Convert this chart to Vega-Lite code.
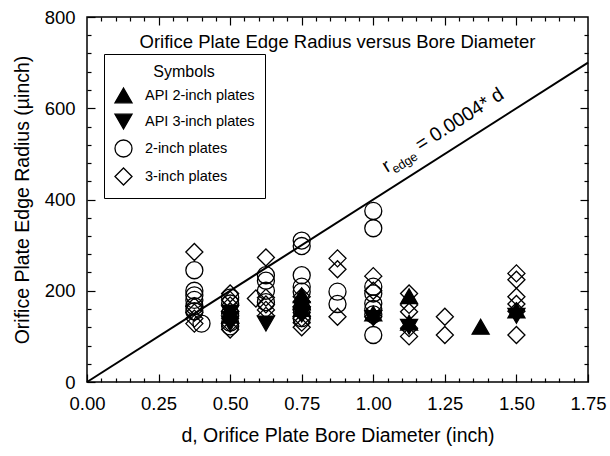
{
  "$schema": "https://vega.github.io/schema/vega-lite/v6.json",
  "width": 501,
  "height": 365,
  "autosize": {"type": "none"},
  "padding": {"left": 87, "top": 17, "right": 22, "bottom": 74},
  "config": {
    "font": "Liberation Sans",
    "view": {"stroke": "black", "strokeWidth": 1.5},
    "axis": {"grid": false, "domain": false, "labelColor": "black", "titleColor": "black", "tickColor": "black", "tickWidth": 1.2, "tickOpacity": 1, "zindex": 1},
    "legend": {
      "orient": "none", "legendX": 17, "legendY": 37,
      "strokeColor": "black", "fillColor": "white", "padding": 10,
      "titleFontSize": 16, "titleFontWeight": "normal", "titleAnchor": "middle", "titleColor": "black", "titlePadding": 6,
      "labelFontSize": 14.5, "labelColor": "black", "rowPadding": 5, "labelOffset": 12,
      "symbolStrokeWidth": 1.3
    }
  },
  "datasets": {
    "fit": [{"d": 0, "r": 0}, {"d": 1.75, "r": 700}],
    "pts": [
      {"d": 0.375, "r": 285, "series": "3-inch plates"},
      {"d": 0.375, "r": 166, "series": "3-inch plates"},
      {"d": 0.375, "r": 152, "series": "3-inch plates"},
      {"d": 0.375, "r": 139, "series": "3-inch plates"},
      {"d": 0.375, "r": 128, "series": "3-inch plates"},
      {"d": 0.5, "r": 194, "series": "3-inch plates"},
      {"d": 0.5, "r": 180, "series": "3-inch plates"},
      {"d": 0.5, "r": 168, "series": "3-inch plates"},
      {"d": 0.5, "r": 155, "series": "3-inch plates"},
      {"d": 0.5, "r": 140, "series": "3-inch plates"},
      {"d": 0.5, "r": 128, "series": "3-inch plates"},
      {"d": 0.5, "r": 115, "series": "3-inch plates"},
      {"d": 0.59, "r": 183, "series": "3-inch plates"},
      {"d": 0.625, "r": 273, "series": "3-inch plates"},
      {"d": 0.625, "r": 185, "series": "3-inch plates"},
      {"d": 0.625, "r": 170, "series": "3-inch plates"},
      {"d": 0.625, "r": 158, "series": "3-inch plates"},
      {"d": 0.625, "r": 145, "series": "3-inch plates"},
      {"d": 0.75, "r": 187, "series": "3-inch plates"},
      {"d": 0.75, "r": 176, "series": "3-inch plates"},
      {"d": 0.75, "r": 165, "series": "3-inch plates"},
      {"d": 0.75, "r": 152, "series": "3-inch plates"},
      {"d": 0.75, "r": 140, "series": "3-inch plates"},
      {"d": 0.75, "r": 130, "series": "3-inch plates"},
      {"d": 0.75, "r": 120, "series": "3-inch plates"},
      {"d": 0.875, "r": 271, "series": "3-inch plates"},
      {"d": 0.875, "r": 247, "series": "3-inch plates"},
      {"d": 0.875, "r": 143, "series": "3-inch plates"},
      {"d": 1.0, "r": 232, "series": "3-inch plates"},
      {"d": 1.0, "r": 200, "series": "3-inch plates"},
      {"d": 1.0, "r": 143, "series": "3-inch plates"},
      {"d": 1.125, "r": 194, "series": "3-inch plates"},
      {"d": 1.125, "r": 169, "series": "3-inch plates"},
      {"d": 1.125, "r": 154, "series": "3-inch plates"},
      {"d": 1.125, "r": 118, "series": "3-inch plates"},
      {"d": 1.125, "r": 100, "series": "3-inch plates"},
      {"d": 1.25, "r": 143, "series": "3-inch plates"},
      {"d": 1.25, "r": 103, "series": "3-inch plates"},
      {"d": 1.5, "r": 238, "series": "3-inch plates"},
      {"d": 1.5, "r": 224, "series": "3-inch plates"},
      {"d": 1.5, "r": 187, "series": "3-inch plates"},
      {"d": 1.5, "r": 171, "series": "3-inch plates"},
      {"d": 1.5, "r": 155, "series": "3-inch plates"},
      {"d": 1.5, "r": 103, "series": "3-inch plates"},
      {"d": 0.375, "r": 245, "series": "2-inch plates"},
      {"d": 0.375, "r": 200, "series": "2-inch plates"},
      {"d": 0.375, "r": 190, "series": "2-inch plates"},
      {"d": 0.375, "r": 180, "series": "2-inch plates"},
      {"d": 0.375, "r": 166, "series": "2-inch plates"},
      {"d": 0.375, "r": 155, "series": "2-inch plates"},
      {"d": 0.4, "r": 128, "series": "2-inch plates"},
      {"d": 0.5, "r": 185, "series": "2-inch plates"},
      {"d": 0.5, "r": 172, "series": "2-inch plates"},
      {"d": 0.5, "r": 150, "series": "2-inch plates"},
      {"d": 0.5, "r": 130, "series": "2-inch plates"},
      {"d": 0.5, "r": 122, "series": "2-inch plates"},
      {"d": 0.625, "r": 234, "series": "2-inch plates"},
      {"d": 0.625, "r": 222, "series": "2-inch plates"},
      {"d": 0.625, "r": 200, "series": "2-inch plates"},
      {"d": 0.625, "r": 175, "series": "2-inch plates"},
      {"d": 0.75, "r": 310, "series": "2-inch plates"},
      {"d": 0.75, "r": 298, "series": "2-inch plates"},
      {"d": 0.75, "r": 234, "series": "2-inch plates"},
      {"d": 0.75, "r": 209, "series": "2-inch plates"},
      {"d": 0.75, "r": 198, "series": "2-inch plates"},
      {"d": 0.75, "r": 160, "series": "2-inch plates"},
      {"d": 0.75, "r": 140, "series": "2-inch plates"},
      {"d": 0.875, "r": 198, "series": "2-inch plates"},
      {"d": 0.875, "r": 171, "series": "2-inch plates"},
      {"d": 1.0, "r": 375, "series": "2-inch plates"},
      {"d": 1.0, "r": 337, "series": "2-inch plates"},
      {"d": 1.0, "r": 209, "series": "2-inch plates"},
      {"d": 1.0, "r": 194, "series": "2-inch plates"},
      {"d": 1.0, "r": 172, "series": "2-inch plates"},
      {"d": 1.0, "r": 160, "series": "2-inch plates"},
      {"d": 1.0, "r": 148, "series": "2-inch plates"},
      {"d": 1.0, "r": 103, "series": "2-inch plates"},
      {"d": 0.5, "r": 152, "series": "API 3-inch plates"},
      {"d": 0.5, "r": 138, "series": "API 3-inch plates"},
      {"d": 0.5, "r": 128, "series": "API 3-inch plates"},
      {"d": 0.625, "r": 128, "series": "API 3-inch plates"},
      {"d": 0.75, "r": 148, "series": "API 3-inch plates"},
      {"d": 1.0, "r": 140, "series": "API 3-inch plates"},
      {"d": 1.125, "r": 121, "series": "API 3-inch plates"},
      {"d": 1.5, "r": 145, "series": "API 3-inch plates"},
      {"d": 0.5, "r": 145, "series": "API 2-inch plates"},
      {"d": 0.75, "r": 190, "series": "API 2-inch plates"},
      {"d": 0.75, "r": 175, "series": "API 2-inch plates"},
      {"d": 0.75, "r": 160, "series": "API 2-inch plates"},
      {"d": 1.0, "r": 150, "series": "API 2-inch plates"},
      {"d": 1.125, "r": 188, "series": "API 2-inch plates"},
      {"d": 1.125, "r": 130, "series": "API 2-inch plates"},
      {"d": 1.375, "r": 121, "series": "API 2-inch plates"},
      {"d": 1.5, "r": 157, "series": "API 2-inch plates"}
    ]
  },
  "layer": [
    {
      "data": {"name": "fit"},
      "mark": {"type": "line", "color": "black", "strokeWidth": 2},
      "encoding": {
        "x": {"field": "d", "type": "quantitative", "scale": {"domain": [0, 1.75], "nice": false},
          "axis": {"orient": "bottom", "values": [0, 0.25, 0.5, 0.75, 1, 1.25, 1.5, 1.75], "format": ".2f", "ticks": true, "tickSize": -8,
            "labelFontSize": 18.5, "labelPadding": 20, "labelFlush": false, "labelOverlap": false,
            "title": "d, Orifice Plate Bore Diameter (inch)", "titleFontSize": 19.5, "titleFontWeight": "normal", "titlePadding": 14}},
        "y": {"field": "r", "type": "quantitative", "scale": {"domain": [0, 800], "nice": false},
          "axis": {"orient": "left", "values": [0, 200, 400, 600, 800], "ticks": true, "tickSize": -8,
            "labelFontSize": 18.5, "labelPadding": 20, "labelFlush": false, "labelOverlap": false,
            "title": "Orifice Plate Edge Radius (µinch)", "titleLimit": 500, "titleFontSize": 19.5, "titleFontWeight": "normal", "titlePadding": 12}}
      }
    },
    {
      "data": {"name": "pts"},
      "mark": {"type": "point", "filled": true, "strokeWidth": 1.3, "opacity": 1},
      "encoding": {
        "x": {"field": "d", "type": "quantitative",
          "axis": {"orient": "top", "labels": false, "title": null, "values": [0.25, 0.5, 0.75, 1, 1.25, 1.5], "tickSize": -8}},
        "y": {"field": "r", "type": "quantitative",
          "axis": {"orient": "right", "labels": false, "title": null, "values": [200, 400, 600], "tickSize": -8}},
        "shape": {"field": "series", "type": "nominal", "title": "Symbols",
          "scale": {"domain": ["API 2-inch plates", "API 3-inch plates", "2-inch plates", "3-inch plates"], "range": ["triangle-up", "triangle-down", "circle", "diamond"]}},
        "fill": {"field": "series", "type": "nominal", "title": "Symbols",
          "scale": {"domain": ["API 2-inch plates", "API 3-inch plates", "2-inch plates", "3-inch plates"], "range": ["black", "black", "transparent", "transparent"]}},
        "stroke": {"field": "series", "type": "nominal", "title": "Symbols",
          "scale": {"domain": ["API 2-inch plates", "API 3-inch plates", "2-inch plates", "3-inch plates"], "range": ["black", "black", "black", "black"]}},
        "size": {"field": "series", "type": "nominal", "title": "Symbols",
          "scale": {"domain": ["API 2-inch plates", "API 3-inch plates", "2-inch plates", "3-inch plates"], "range": [290, 290, 225, 330]}}
      }
    },
    {
      "data": {"values": [{"d": 0.875, "r": 732, "t": "Orifice Plate Edge Radius versus Bore Diameter"}]},
      "mark": {"type": "text", "fontSize": 18.5, "align": "center", "baseline": "alphabetic", "color": "black"},
      "encoding": {
        "x": {"field": "d", "type": "quantitative",
          "axis": {"orient": "bottom", "labels": false, "title": null,
            "values": [0.05,0.1,0.15,0.2,0.3,0.35,0.4,0.45,0.55,0.6,0.65,0.7,0.8,0.85,0.9,0.95,1.05,1.1,1.15,1.2,1.3,1.35,1.4,1.45,1.55,1.6,1.65,1.7], "tickSize": -4}},
        "y": {"field": "r", "type": "quantitative",
          "axis": {"orient": "left", "labels": false, "title": null,
            "values": [40,80,120,160,240,280,320,360,440,480,520,560,640,680,720,760], "tickSize": -4}},
        "text": {"field": "t"}
      }
    },
    {
      "data": {"values": [{"d": 1.048, "r": 458, "t": "r"}]},
      "mark": {"type": "text", "fontSize": 19.5, "align": "left", "baseline": "alphabetic", "angle": 327.5, "color": "black"},
      "encoding": {
        "x": {"field": "d", "type": "quantitative",
          "axis": {"orient": "top", "labels": false, "title": null,
            "values": [0.05,0.1,0.15,0.2,0.3,0.35,0.4,0.45,0.55,0.6,0.65,0.7,0.8,0.85,0.9,0.95,1.05,1.1,1.15,1.2,1.3,1.35,1.4,1.45,1.55,1.6,1.65,1.7], "tickSize": -4}},
        "y": {"field": "r", "type": "quantitative",
          "axis": {"orient": "right", "labels": false, "title": null,
            "values": [40,80,120,160,240,280,320,360,440,480,520,560,640,680,720,760], "tickSize": -4}},
        "text": {"field": "t"}
      }
    },
    {
      "data": {"values": [{"d": 1.0765, "r": 456.5, "t": "edge"}]},
      "mark": {"type": "text", "fontSize": 12.5, "align": "left", "baseline": "alphabetic", "angle": 327.5, "color": "black"},
      "encoding": {
        "x": {"field": "d", "type": "quantitative", "axis": null},
        "y": {"field": "r", "type": "quantitative", "axis": null},
        "text": {"field": "t"}
      }
    },
    {
      "data": {"values": [{"d": 1.165, "r": 505, "t": "= 0.0004* d"}]},
      "mark": {"type": "text", "fontSize": 19.5, "align": "left", "baseline": "alphabetic", "angle": 327.5, "color": "black"},
      "encoding": {
        "x": {"field": "d", "type": "quantitative", "axis": null},
        "y": {"field": "r", "type": "quantitative", "axis": null},
        "text": {"field": "t"}
      }
    }
  ],
  "resolve": {
    "axis": {"x": "independent", "y": "independent"}
  }
}
